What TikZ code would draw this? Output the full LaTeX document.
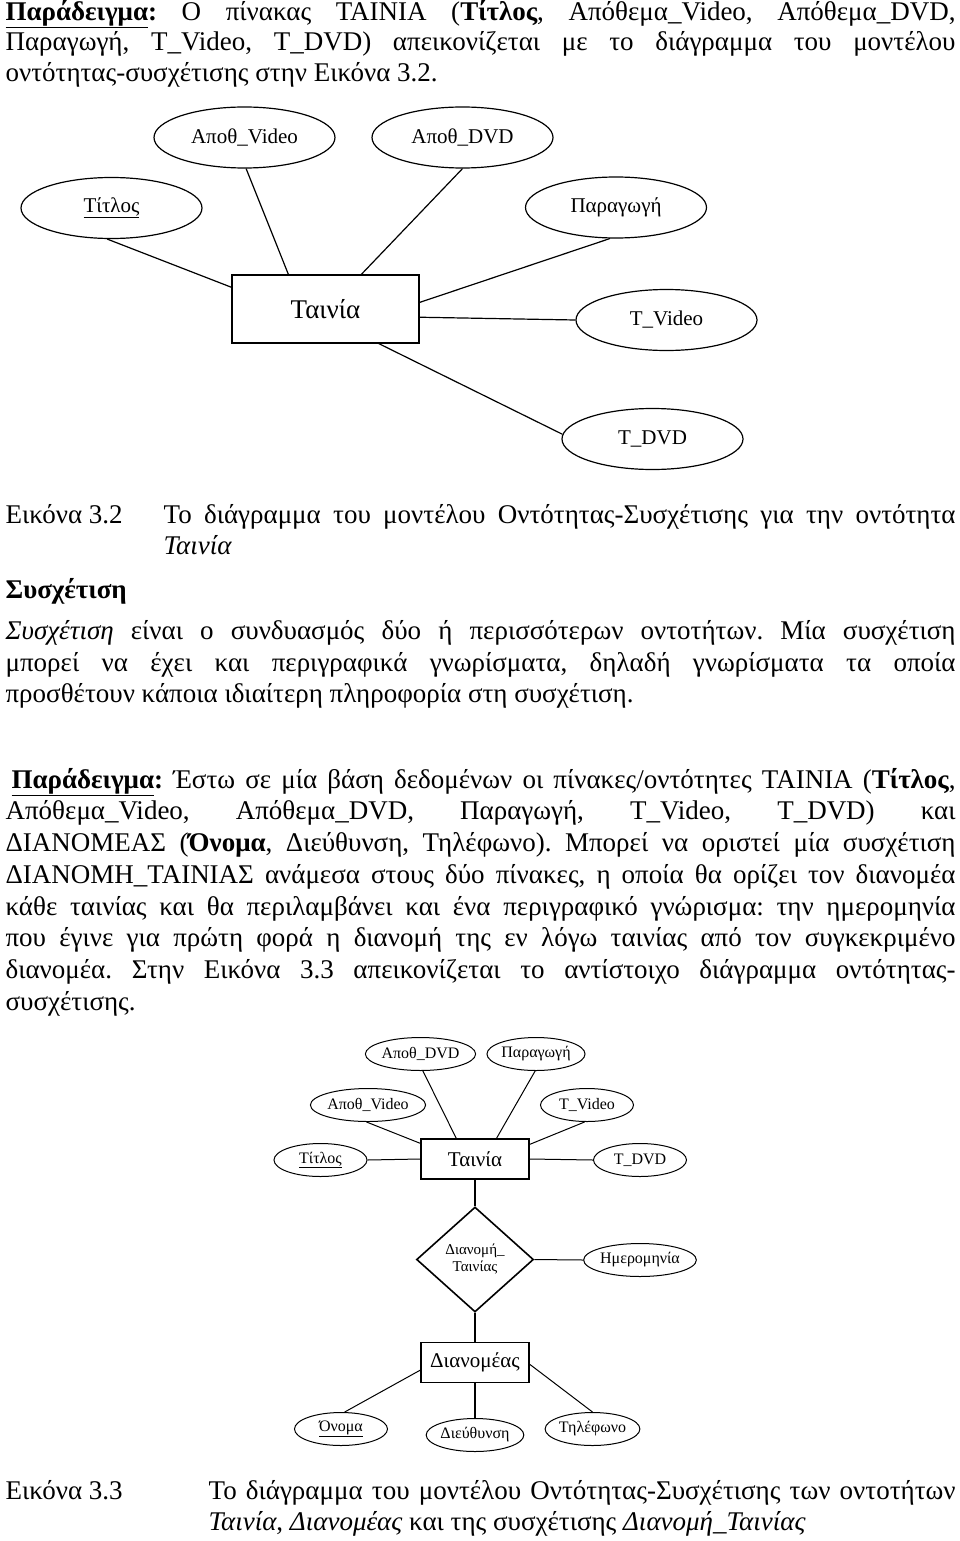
\documentclass[tikz,border=0pt]{standalone}
\usepackage{fontspec}
\setmainfont{Liberation Serif}
\usetikzlibrary{shapes.geometric}
\hbadness=10000
\frenchspacing
\newcommand{\jline}[2]{\hbox to #1pt{#2}}
\tikzset{
  txt/.style = {anchor=base west, inner sep=0pt, font=\fontsize{27}{31}\selectfont},
  attr/.style = {ellipse, draw, inner sep=0pt, minimum width=181pt, minimum height=61pt,
    font=\fontsize{21}{24}\selectfont},
  ent/.style = {rectangle, draw, inner sep=0pt, minimum width=187pt, minimum height=68pt,
    font=\fontsize{27}{30}\selectfont},
  sattr/.style = {ellipse, draw, line width=1pt, inner sep=0pt, minimum width=93pt,
    minimum height=33pt, font=\fontsize{16}{18}\selectfont},
  sent/.style = {rectangle, draw, line width=1.8pt, inner sep=0pt, minimum width=108pt,
    minimum height=40pt, font=\fontsize{21}{24}\selectfont},
  rel/.style = {diamond, draw, line width=1.6pt, inner sep=0pt, minimum width=117pt,
    minimum height=105pt, align=center, font=\fontsize{15}{17}\selectfont}
}

\begin{document}
\begin{tikzpicture}[x=1pt, y=-1pt, line width=1.2pt]
  \useasboundingbox (0,0) rectangle (960,1541);
  % first paragraph
  \node[txt] (pa1) at (5,20.5) {\jline{950}{\underline{\textbf{Παράδειγμα}}\textbf{:} Ο πίνακας ΤΑΙΝΙΑ (\textbf{Τίτλος}, Απόθεμα\_Video, Απόθεμα\_DVD,}};
  \node[txt] (pa2) at (5,51) {\jline{950}{Παραγωγή, T\_Video, T\_DVD) απεικονίζεται με το διάγραμμα του μοντέλου}};
  \node[txt] (pa3) at (5,82) {οντότητας-συσχέτισης στην Εικόνα 3.2.};

  % figure 3.2
  \node[attr] (avideo) at (244.5,137.5) {Αποθ\_Video};
  \node[attr] (advd) at (462.5,137.5) {Αποθ\_DVD};
  \node[attr] (titlos) at (111.5,208) {\underline{Τίτλος}};
  \node[attr] (paragogi) at (616,207.5) {Παραγωγή};
  \node[ent] (tainia) at (325.5,309) {Ταινία};
  \node[attr] (tvideo) at (666.5,320) {T\_Video};
  \node[attr] (tdvd) at (652.5,439) {T\_DVD};
  \draw (tainia.167) -- (titlos.-98);
  \draw (tainia.137) -- (avideo.-87);
  \draw (tainia.44) -- (advd.south);
  \draw (tainia.4) -- (paragogi.-101);
  \draw (tainia.-5) -- (tvideo.west);
  \draw (tainia.-33) -- (tdvd.177);

  % caption 3.2
  \node[txt] (cap2) at (5,523) {Εικόνα 3.2};
  \node[txt] (cap2a) at (163,523) {\jline{792}{Το διάγραμμα του μοντέλου Οντότητας-Συσχέτισης για την οντότητα}};
  \node[txt] (cap2b) at (163,554) {\textit{Ταινία}};

  % section
  \node[txt] (sect) at (5,598) {\textbf{Συσχέτιση}};
  \node[txt] (pb1) at (5,639) {\jline{950}{\textit{Συσχέτιση} είναι ο συνδυασμός δύο ή περισσότερων οντοτήτων. Μία συσχέτιση}};
  \node[txt] (pb2) at (5,671) {\jline{950}{μπορεί να έχει και περιγραφικά γνωρίσματα, δηλαδή γνωρίσματα τα οποία}};
  \node[txt] (pb3) at (5,702) {προσθέτουν κάποια ιδιαίτερη πληροφορία στη συσχέτιση.};

  % second example
  \node[txt] (pc1) at (11,788) {\jline{944}{\underline{\textbf{Παράδειγμα}}\textbf{:} Έστω σε μία βάση δεδομένων οι πίνακες/οντότητες ΤΑΙΝΙΑ (\textbf{Τίτλος},}};
  \node[txt] (pc2) at (5,819) {\jline{950}{Απόθεμα\_Video, Απόθεμα\_DVD, Παραγωγή, T\_Video, T\_DVD) και}};
  \node[txt] (pc3) at (5,851) {\jline{950}{ΔΙΑΝΟΜΕΑΣ (\textbf{Όνομα}, Διεύθυνση, Τηλέφωνο). Μπορεί να οριστεί μία συσχέτιση}};
  \node[txt] (pc4) at (5,883) {\jline{950}{ΔΙΑΝΟΜΗ\_ΤΑΙΝΙΑΣ ανάμεσα στους δύο πίνακες, η οποία θα ορίζει τον διανομέα}};
  \node[txt] (pc5) at (5,915) {\jline{950}{κάθε ταινίας και θα περιλαμβάνει και ένα περιγραφικό γνώρισμα: την ημερομηνία}};
  \node[txt] (pc6) at (5,946) {\jline{950}{που έγινε για πρώτη φορά η διανομή της εν λόγω ταινίας από τον συγκεκριμένο}};
  \node[txt] (pc7) at (5,978) {\jline{950}{διανομέα. Στην Εικόνα 3.3 απεικονίζεται το αντίστοιχο διάγραμμα οντότητας-}};
  \node[txt] (pc8) at (5,1010) {συσχέτισης.};

  % figure 3.3
  \node[sattr] (advd2) at (420.5,1054) {Αποθ\_DVD};
  \node[sattr] (parag2) at (536,1054) {Παραγωγή};
  \node[sattr] (avid2) at (368,1105) {Αποθ\_Video};
  \node[sattr] (tvid2) at (587,1105) {T\_Video};
  \node[sattr] (titl2) at (320.5,1160) {\underline{Τίτλος}};
  \node[sattr] (tdvd2) at (640,1160) {T\_DVD};
  \node[sent] (tain2) at (475,1159) {Ταινία};
  \node[rel] (dianomi) at (475,1259.5) {Διανομή\_\\Ταινίας};
  \node[sattr] (imer) at (640,1260) {Ημερομηνία};
  \node[sent] (dianomeas) at (475,1362.5) {Διανομέας};
  \node[sattr] (onoma) at (341,1429) {\underline{Όνομα}};
  \node[sattr] (dieuth) at (475,1435) {Διεύθυνση};
  \node[sattr] (tilef) at (592.5,1429) {Τηλέφωνο};
  \begin{scope}[line width=1pt]
    \draw (tain2.132) -- (advd2.-82);
    \draw (tain2.44) -- (parag2.-93);
    \draw (tain2.164) -- (avid2.-95);
    \draw (tain2.15) -- (tvid2.-98);
    \draw (tain2.west) -- (titl2.east);
    \draw (tain2.east) -- (tdvd2.west);
    \draw (dianomi.east) -- (imer.west);
    \draw (dianomeas.188) -- (onoma.78);
    \draw (dianomeas.-2) -- (tilef.north);
  \end{scope}
  \begin{scope}[line width=1.8pt]
    \draw (tain2.south) -- (dianomi.north);
    \draw (dianomi.south) -- (dianomeas.north);
    \draw (dianomeas.south) -- (dieuth.north);
  \end{scope}

  % caption 3.3
  \node[txt] (cap3) at (5,1499) {Εικόνα 3.3};
  \node[txt] (cap3a) at (208,1499) {\jline{747}{Το διάγραμμα του μοντέλου Οντότητας-Συσχέτισης των οντοτήτων}};
  \node[txt] (cap3b) at (208,1530) {\textit{Ταινία}, \textit{Διανομέας} και της συσχέτισης \textit{Διανομή\_Ταινίας}};
\end{tikzpicture}
\end{document}
